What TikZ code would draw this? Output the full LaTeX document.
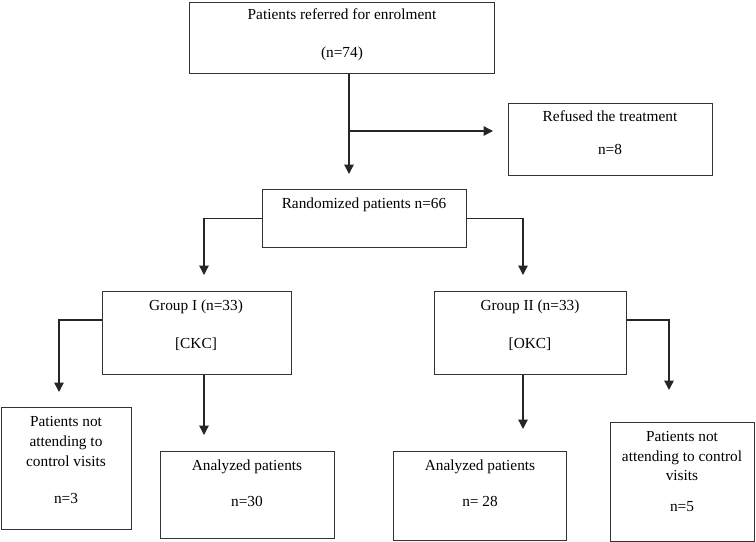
\documentclass[tikz,border=0pt]{standalone}
\usepackage{fontspec}
\setmainfont{Liberation Serif}
\usetikzlibrary{arrows.meta}
\begin{document}
\begin{tikzpicture}[x=0.75pt,y=-0.75pt,
  box/.style={draw=black!80,line width=1.1pt,rectangle,inner sep=0pt,anchor=north west},
  txt/.style={inner sep=0pt,anchor=mid,font=\fontsize{11.5}{14}\selectfont},
  arr/.style={draw=black!85,line width=1pt,-{Triangle[length=7pt,width=7pt]}},
  ln/.style={draw=black!85,line width=1pt}]
\useasboundingbox (0,0) rectangle (756,542);
\newcommand{\bx}[5]{\node[box,minimum width=#4*0.75pt,minimum height=#5*0.75pt] (#1) at (#2,#3) {};}
% boxes
\bx{top}{189}{2}{305}{71}
\bx{ref}{508}{103}{204}{72}
\bx{rand}{262}{189}{204}{58}
\bx{ga}{102}{291}{189}{83}
\bx{gb}{434}{291}{192}{83}
\bx{nl}{1}{407}{130}{122}
\bx{aa}{160}{451}{174}{87}
\bx{ab}{393}{451}{173}{89}
\bx{nr}{610}{422}{144}{119}
% texts
\node[txt] (top1) at (342,16) {Patients referred for enrolment};
\node[txt] (top2) at (342,54) {(n=74)};
\node[txt] (ref1) at (610,118) {Refused the treatment};
\node[txt] (ref2) at (610,151) {n=8};
\node[txt] (rand1) at (364,205) {Randomized patients n=66};
\node[txt] (ga1) at (196,307) {Group I (n=33)};
\node[txt] (ga2) at (196,345) {[CKC]};
\node[txt] (gb1) at (530,307) {Group II (n=33)};
\node[txt] (gb2) at (530,345) {[OKC]};
\node[txt] (nl1) at (66,423) {Patients not};
\node[txt] (nl2) at (66,443) {attending to};
\node[txt] (nl3) at (66,463) {control visits};
\node[txt] (nl4) at (66,500) {n=3};
\node[txt] (aa1) at (247,467) {Analyzed patients};
\node[txt] (aa2) at (247,503) {n=30};
\node[txt] (ab1) at (480,467) {Analyzed patients};
\node[txt] (ab2) at (480,503) {n= 28};
\node[txt] (nr1) at (682,438) {Patients not};
\node[txt] (nr2) at (682,458) {attending to control};
\node[txt] (nr3) at (682,477) {visits};
\node[txt] (nr4) at (682,508) {n=5};
% connector ends
\coordinate (t1) at (349,174);
\coordinate (t2) at (493,131);
\coordinate (t3) at (204,275);
\coordinate (t4) at (523,275);
\coordinate (c5) at (59,320);
\coordinate (t5) at (59,392);
\coordinate (t6) at (204,435);
\coordinate (t7) at (523,429);
\coordinate (c8) at (669,320);
\coordinate (t8) at (669,390);
% connectors
\draw[arr] (top.south -| t1) -- (t1);
\draw[arr] (t1 |- t2) -- (t2);
\draw[arr] (rand.west) -| (t3);
\draw[arr] (rand.east) -| (t4);
\draw[arr] (ga.west |- c5) -- (c5) -- (t5);
\draw[arr] (ga.south -| t6) -- (t6);
\draw[arr] (gb.south -| t7) -- (t7);
\draw[arr] (gb.east |- c8) -- (c8) -- (t8);
\end{tikzpicture}
\end{document}
